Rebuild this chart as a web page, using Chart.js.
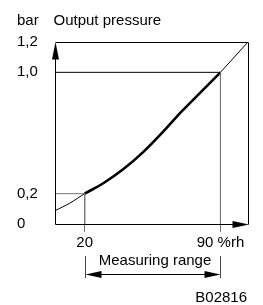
<!DOCTYPE html>
<html><head><meta charset="utf-8">
<script src="https://cdn.jsdelivr.net/npm/chart.js@4/dist/chart.umd.min.js"></script>
<style>html,body{margin:0;padding:0;background:#fff;overflow:hidden}</style>
</head><body>
<canvas id="c" width="263" height="305"></canvas>
<script>
// ---- data ----
const xTicks = [20, 90];
const xTickLabels = ['20', '90 %rh'];
const yTicks = [0, 0.2, 1.0, 1.2];
const yTickLabels = ['0', '0,2', '1,0', '1,2'];
const curveX = [20, 30, 40, 50, 60, 70, 80, 90];
const curveY = [0.2, 0.272, 0.362, 0.472, 0.602, 0.742, 0.871, 1.0];
const lowX = [4.7, 12.3, 20, 30];
const lowY = [0.088, 0.137, 0.2, 0.272];
const diagX = [90, 104.2];
const diagY = [1.0, 1.2];
const xMin = 4.7, xMax = 104.2, yMin = 0, yMax = 1.2;
const rangeLow = 20, rangeHigh = 90;
const yUnit = 'bar', yTitle = 'Output pressure', rangeLabel = 'Measuring range', figId = 'B02816';

const pts = (xs, ys) => xs.map((x, i) => ({x, y: ys[i]}));
const FONT = "'Liberation Sans', Arial, sans-serif";

const decor = {
  id: 'decor',
  afterDatasetsDraw(chart) {
    const {ctx, chartArea: a, scales} = chart;
    const L = Math.round(a.left) + 0.5, R = Math.round(a.right) + 0.5;
    const T = Math.round(a.top) + 0.5, B = Math.round(a.bottom) + 0.5;
    ctx.save();
    ctx.strokeStyle = '#000'; ctx.fillStyle = '#000'; ctx.lineWidth = 1;
    ctx.beginPath();
    ctx.moveTo(L, B); ctx.lineTo(L, T + 10);
    ctx.moveTo(L, T); ctx.lineTo(R, T); ctx.lineTo(R, B);
    ctx.moveTo(L, B); ctx.lineTo(R - 10, B);
    ctx.stroke();
    // arrowheads
    ctx.beginPath();
    ctx.moveTo(L, T - 0.5); ctx.lineTo(L - 3.5, T + 17); ctx.lineTo(L + 3.5, T + 17); ctx.closePath(); ctx.fill();
    ctx.beginPath();
    ctx.moveTo(R + 0.5, B); ctx.lineTo(R - 16, B - 3.5); ctx.lineTo(R - 16, B + 3.5); ctx.closePath(); ctx.fill();
    // header texts
    ctx.font = '15px ' + FONT;
    ctx.textBaseline = 'alphabetic'; ctx.textAlign = 'left';
    ctx.fillText(yUnit, 17, 25);
    ctx.fillText(yTitle, 53.5, 25);
    // measuring range
    const x1 = Math.round(scales.x.getPixelForValue(rangeLow)) + 0.5;
    const x2 = Math.round(scales.x.getPixelForValue(rangeHigh)) + 0.5;
    ctx.strokeStyle = '#444';
    ctx.beginPath();
    ctx.moveTo(x1, 256); ctx.lineTo(x1, 278);
    ctx.moveTo(x2, 256); ctx.lineTo(x2, 278);
    ctx.stroke();
    const ay = 274.5;
    ctx.strokeStyle = '#000';
    ctx.beginPath(); ctx.moveTo(x1 + 10, ay); ctx.lineTo(x2 - 10, ay); ctx.stroke();
    ctx.beginPath(); ctx.moveTo(x1, ay); ctx.lineTo(x1 + 16, ay - 3.5); ctx.lineTo(x1 + 16, ay + 3.5); ctx.closePath(); ctx.fill();
    ctx.beginPath(); ctx.moveTo(x2, ay); ctx.lineTo(x2 - 16, ay - 3.5); ctx.lineTo(x2 - 16, ay + 3.5); ctx.closePath(); ctx.fill();
    ctx.textAlign = 'center';
    ctx.fillText(rangeLabel, (x1 + x2) / 2 + 2, 264.5);
    ctx.textAlign = 'right';
    ctx.fillText(figId, 247, 302);
    ctx.restore();
  }
};

const lineDs = (data, color, width, extra) => Object.assign({
  data, borderColor: color, borderWidth: width, pointRadius: 0, fill: false, tension: 0
}, extra || {});

new Chart(document.getElementById('c'), {
  type: 'line',
  data: {
    datasets: [
      lineDs(pts([xMin, rangeLow, rangeLow], [0.2, 0.2, 0]), '#777', 1),
      lineDs(pts([xMin, rangeHigh], [1.0, 1.0]), '#000', 1),
      lineDs(pts([rangeHigh, rangeHigh], [1.0, 0]), '#777', 1),
      lineDs(pts(diagX, diagY), '#000', 1),
      lineDs(pts(lowX, lowY), '#000', 1, {tension: 0.3}),
      lineDs(pts(curveX, curveY), '#000', 2.6, {tension: 0.35})
    ]
  },
  options: {
    responsive: false, animation: false, devicePixelRatio: 1,
    layout: {padding: {top: 42, left: 17, right: 15, bottom: 0}},
    plugins: {legend: {display: false}, tooltip: {enabled: false}},
    scales: {
      x: {
        type: 'linear', min: xMin, max: xMax,
        afterBuildTicks: s => { s.ticks = xTicks.map(v => ({value: v})); },
        afterFit: s => { s.height = 81; },
        border: {display: false},
        grid: {display: true, drawOnChartArea: false, drawTicks: true, tickLength: 8, color: '#777', lineWidth: 1},
        ticks: {
          autoSkip: false, maxRotation: 0, padding: 2, color: '#000',
          font: {family: FONT, size: 15},
          callback: v => xTickLabels[xTicks.indexOf(v)]
        }
      },
      y: {
        type: 'linear', min: yMin, max: yMax,
        afterBuildTicks: s => { s.ticks = yTicks.map(v => ({value: v})); },
        afterFit: s => { s.width = 38; },
        border: {display: false},
        grid: {display: false},
        ticks: {
          crossAlign: 'far', padding: 0, color: '#000',
          font: {family: FONT, size: 15},
          callback: v => yTickLabels[yTicks.indexOf(v)]
        }
      }
    }
  },
  plugins: [decor]
});
</script>
</body></html>
